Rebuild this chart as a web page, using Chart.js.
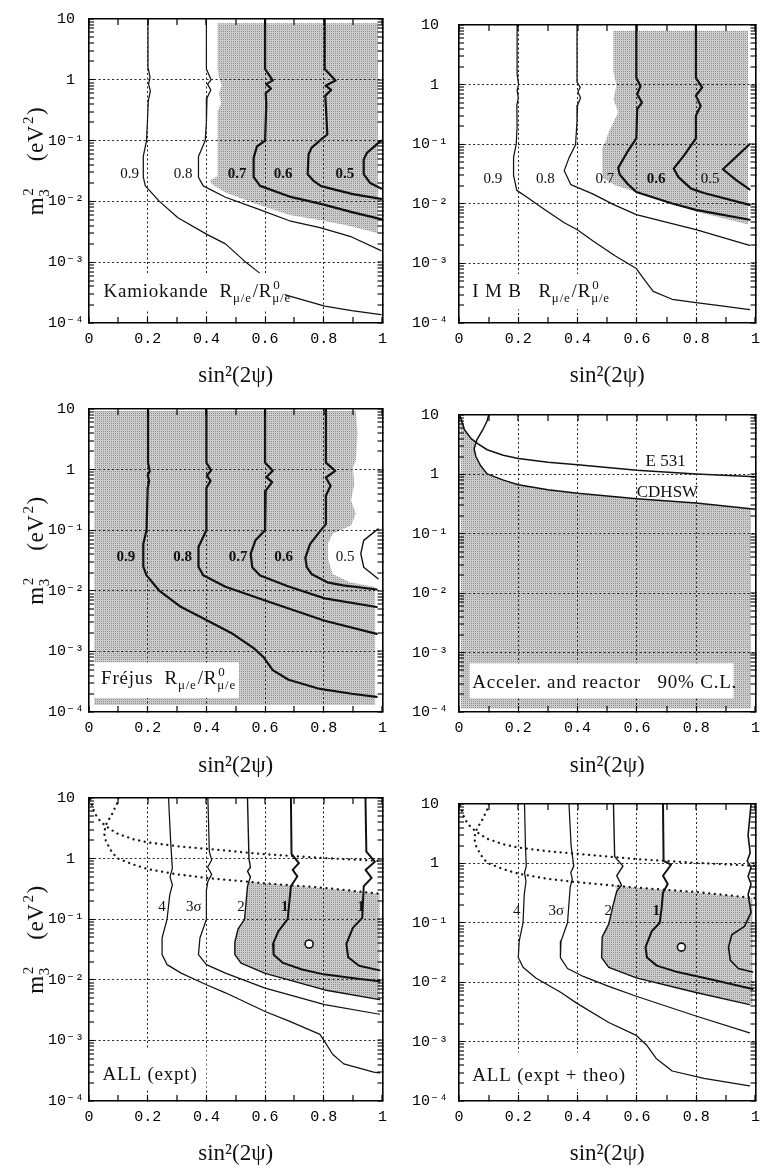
<!DOCTYPE html>
<html>
<head>
<meta charset="utf-8">
<title>m3^2 versus sin^2(2psi) contour panels</title>
<script src="https://cdn.jsdelivr.net/npm/chart.js@4.4.1/dist/chart.umd.min.js"></script>
<style>
  html, body { margin:0; padding:0; background:#fff; }
  #page { position:relative; width:773px; height:1168px; overflow:hidden; background:#fff; }
  canvas { position:absolute; }
</style>
</head>
<body>
<div id="page">
  <canvas id="p1" width="400" height="390" style="left:0px;top:0px;"></canvas>
  <canvas id="p2" width="373" height="390" style="left:400px;top:0px;"></canvas>
  <canvas id="p3" width="400" height="390" style="left:0px;top:390px;"></canvas>
  <canvas id="p4" width="373" height="390" style="left:400px;top:390px;"></canvas>
  <canvas id="p5" width="400" height="389" style="left:0px;top:779px;"></canvas>
  <canvas id="p6" width="373" height="389" style="left:400px;top:779px;"></canvas>
</div>
<script>
// ---------------- axis ticks ----------------
const xTickValues   = [0, 0.1, 0.2, 0.3, 0.4, 0.5, 0.6, 0.7, 0.8, 0.9, 1];
const xLabelValues  = [0, 0.2, 0.4, 0.6, 0.8, 1];
const xLabelTexts   = ['0', '0.2', '0.4', '0.6', '0.8', '1'];
const xGridValues   = [0.2, 0.4, 0.6, 0.8];
const yDecadeValues = [1e-4, 1e-3, 1e-2, 1e-1, 1, 10];
const yDecadeLabels = ['10\u207B\u2074', '10\u207B\u00B3', '10\u207B\u00B2', '10\u207B\u00B9', '1 ', '10 '];
const yGridValues   = [1e-3, 1e-2, 1e-1, 1];
const yMinorFactors = [2, 3, 4, 5, 6, 7, 8, 9];
const xTitleText    = 'sin\u00B2(2\u03C8)';
const yTitleParts   = ['m', {sup:'2', sub:'3'}, '    (eV', {sup:'2'}, ')'];

// ---------------- Panel 1: Kamiokande ----------------
const kam09 = [[0.201,10],[0.201,1.6],[0.208,1.1],[0.203,0.85],[0.209,0.65],[0.202,0.45],[0.199,0.2],[0.196,0.1],[0.185,0.055],[0.185,0.025],[0.192,0.018],[0.239,0.0101],[0.303,0.0054],[0.40,0.0029],[0.465,0.002],[0.529,0.00105],[0.572,0.00072],[0.669,0.00029],[0.803,0.00019],[0.895,0.00016],[0.995,0.000137]];
const kam08 = [[0.4,10],[0.4,1.5],[0.416,1.0],[0.404,0.85],[0.415,0.68],[0.402,0.5],[0.4,0.2],[0.396,0.1],[0.373,0.055],[0.373,0.025],[0.389,0.018],[0.465,0.0117],[0.572,0.0076],[0.683,0.0048],[0.787,0.0037],[0.895,0.0026],[0.995,0.00155]];
const kam07 = [[0.6,10],[0.6,1.5],[0.626,0.98],[0.604,0.85],[0.62,0.72],[0.602,0.6],[0.604,0.4],[0.6,0.1],[0.572,0.08],[0.561,0.052],[0.561,0.025],[0.583,0.018],[0.683,0.012],[0.79,0.0091],[0.899,0.0066],[0.995,0.0051]];
const kam06 = [[0.803,10],[0.803,1.5],[0.84,0.97],[0.806,0.8],[0.825,0.68],[0.805,0.55],[0.808,0.3],[0.812,0.126],[0.791,0.105],[0.758,0.076],[0.748,0.059],[0.745,0.028],[0.764,0.022],[0.791,0.0178],[0.834,0.0158],[0.899,0.0132],[0.995,0.011]];
const kam05 = [[0.995,0.1],[0.947,0.063],[0.936,0.049],[0.936,0.028],[0.958,0.020],[0.995,0.0163]];
const kamShade = [[0.438,8.5],[0.985,8.5],[0.985,0.003],[0.88,0.004],[0.78,0.005],[0.683,0.006],[0.572,0.009],[0.465,0.014],[0.42,0.019],[0.411,0.022],[0.438,0.026],[0.438,0.3],[0.45,0.4],[0.443,0.6],[0.452,0.8],[0.443,1.1],[0.438,1.5]];
const kamLabels = [['0.9',0.138,0.028,0],['0.8',0.321,0.028,0],['0.7',0.505,0.028,1],['0.6',0.661,0.028,1],['0.5',0.872,0.028,1]];

// ---------------- Panel 2: IMB ----------------
const imb09 = [[0.196,10],[0.196,1.5],[0.201,1.0],[0.196,0.8],[0.2,0.6],[0.195,0.45],[0.196,0.2],[0.193,0.1],[0.184,0.06],[0.184,0.03],[0.195,0.0168],[0.227,0.0131],[0.291,0.0079],[0.355,0.0048],[0.398,0.0037],[0.451,0.0024],[0.526,0.00134],[0.598,0.00082],[0.622,0.00056],[0.655,0.00034],[0.719,0.00025],[0.799,0.00022],[0.879,0.000195],[0.98,0.000167]];
const imb08 = [[0.398,10],[0.398,1.1],[0.409,0.9],[0.401,0.75],[0.41,0.6],[0.4,0.45],[0.398,0.24],[0.393,0.098],[0.371,0.059],[0.355,0.036],[0.377,0.021],[0.451,0.0147],[0.52,0.0098],[0.598,0.0066],[0.799,0.0037],[0.98,0.002]];
const imb07 = [[0.598,10],[0.598,1.3],[0.612,0.94],[0.601,0.69],[0.617,0.5],[0.601,0.39],[0.598,0.125],[0.569,0.076],[0.537,0.04],[0.542,0.031],[0.569,0.0215],[0.598,0.0158],[0.719,0.0101],[0.799,0.0079],[0.98,0.0054]];
const imb06 = [[0.799,10],[0.799,1.3],[0.82,0.9],[0.799,0.65],[0.815,0.44],[0.799,0.3],[0.799,0.125],[0.761,0.067],[0.724,0.039],[0.74,0.028],[0.783,0.018],[0.826,0.0152],[0.98,0.0096]];
const imb05 = [[0.98,0.1],[0.89,0.038],[0.935,0.025],[0.98,0.0175]];
const imbShade = [[0.521,8],[0.975,8],[0.975,0.0045],[0.799,0.0074],[0.719,0.0101],[0.598,0.0156],[0.526,0.0205],[0.483,0.0275],[0.483,0.087],[0.494,0.11],[0.505,0.16],[0.537,0.34],[0.521,0.57],[0.531,0.97],[0.521,1.6]];
const imbLabels = [['0.9',0.114,0.026,0],['0.8',0.291,0.026,0],['0.7',0.492,0.026,0],['0.6',0.665,0.026,1],['0.5',0.847,0.026,0]];

// ---------------- Panel 3: Frejus ----------------
const fre09 = [[0.201,10],[0.201,1.3],[0.207,0.95],[0.2,0.8],[0.205,0.65],[0.2,0.5],[0.196,0.1],[0.185,0.06],[0.185,0.025],[0.196,0.018],[0.239,0.0101],[0.314,0.0054],[0.4,0.0033],[0.486,0.002],[0.561,0.00113],[0.594,0.00081],[0.626,0.00049],[0.68,0.00034],[0.787,0.00024],[0.895,0.0002],[0.98,0.000178]];
const fre08 = [[0.4,10],[0.4,1.3],[0.416,0.97],[0.402,0.8],[0.414,0.65],[0.4,0.5],[0.4,0.1],[0.373,0.053],[0.373,0.025],[0.389,0.018],[0.465,0.0117],[0.6,0.0069],[0.803,0.0032],[0.98,0.00195]];
const fre07 = [[0.6,10],[0.6,1.3],[0.626,0.96],[0.604,0.75],[0.624,0.62],[0.602,0.45],[0.6,0.1],[0.567,0.068],[0.551,0.041],[0.556,0.0245],[0.583,0.0179],[0.68,0.0118],[0.803,0.0075],[0.98,0.0054]];
const fre06 = [[0.807,10],[0.807,1.3],[0.839,0.95],[0.807,0.74],[0.823,0.54],[0.807,0.37],[0.807,0.126],[0.78,0.087],[0.753,0.059],[0.737,0.035],[0.742,0.0245],[0.758,0.019],[0.812,0.0138],[0.866,0.0123],[0.98,0.0105]];
const fre05 = [[0.985,0.105],[0.936,0.068],[0.926,0.041],[0.936,0.0245],[0.985,0.0158]];
const freShade = [[0.018,9.3],[0.909,9.3],[0.915,3.9],[0.909,1.38],[0.899,1.07],[0.904,0.575],[0.893,0.31],[0.909,0.186],[0.893,0.12],[0.83,0.087],[0.814,0.059],[0.814,0.035],[0.83,0.019],[0.889,0.0138],[0.975,0.0115],[0.975,0.00013],[0.018,0.00013]];
const freLabels = [['0.9',0.126,0.036,1],['0.8',0.319,0.036,1],['0.7',0.508,0.036,1],['0.6',0.663,0.036,1],['0.5',0.873,0.036,0]];

// ---------------- Accelerator / reactor limits (panels 4-6) ----------------
const e531  = [[0.004,9.5],[0.019,5.6],[0.041,4.0],[0.063,3.3],[0.095,2.6],[0.149,2.1],[0.2,1.85],[0.3,1.6],[0.4,1.45],[0.6,1.18],[0.8,1.02],[1.0,0.91]];
const cdhsw = [[0.1,10],[0.095,8],[0.08,5.6],[0.06,3.8],[0.051,2.7],[0.057,2.0],[0.073,1.4],[0.095,1.02],[0.15,0.8],[0.2,0.67],[0.3,0.55],[0.4,0.48],[0.6,0.39],[0.8,0.33],[1.0,0.26]];
const accShade = [[0.006,0.000115],[0.006,9.0],[0.019,5.6],[0.041,4.0],[0.056,3.5],[0.051,2.7],[0.057,2.0],[0.073,1.4],[0.095,1.02],[0.15,0.8],[0.2,0.67],[0.3,0.55],[0.4,0.48],[0.6,0.39],[0.8,0.33],[0.985,0.265],[0.985,0.000115]];
const accLabels = [['E 531',0.697,1.64,0,17],['CDHSW',0.703,0.5,0,17]];

// ---------------- Panel 5: ALL (expt) ----------------
const all4 = [[0.271,10],[0.278,2],[0.284,0.69],[0.276,0.5],[0.284,0.37],[0.275,0.25],[0.266,0.1],[0.249,0.049],[0.249,0.026],[0.266,0.0178],[0.314,0.0129],[0.4,0.0083],[0.465,0.0061],[0.6,0.003],[0.68,0.0021],[0.787,0.00126],[0.809,0.00086],[0.83,0.00059],[0.868,0.00041],[0.97,0.0003],[0.99,0.00029]];
const all3 = [[0.405,10],[0.41,1.3],[0.418,0.95],[0.404,0.72],[0.418,0.55],[0.405,0.42],[0.4,0.3],[0.4,0.1],[0.378,0.049],[0.373,0.026],[0.4,0.0178],[0.465,0.0129],[0.6,0.0073],[0.803,0.0039],[0.99,0.0027]];
const all2 = [[0.54,10],[0.545,1.0],[0.55,0.72],[0.54,0.62],[0.55,0.5],[0.54,0.35],[0.53,0.1],[0.508,0.069],[0.497,0.042],[0.497,0.026],[0.518,0.0189],[0.6,0.0128],[0.803,0.0068],[0.99,0.0047]];
const all1a = [[0.688,10],[0.69,1.2],[0.715,0.84],[0.694,0.65],[0.71,0.51],[0.688,0.35],[0.683,0.2],[0.677,0.1],[0.645,0.063],[0.627,0.039],[0.629,0.026],[0.661,0.019],[0.726,0.0148],[0.8,0.0123],[0.909,0.0105],[0.99,0.0095]];
const all1b = [[0.942,10],[0.945,1.3],[0.974,0.89],[0.942,0.65],[0.963,0.48],[0.936,0.35],[0.931,0.105],[0.899,0.072],[0.877,0.039],[0.883,0.0235],[0.92,0.017],[0.99,0.0143]];
const allBest = [[0.75,0.039]];
const allShade = [[0.545,0.415],[0.6,0.39],[0.8,0.325],[0.99,0.262],[0.99,0.0047],[0.803,0.0068],[0.6,0.0128],[0.518,0.0189],[0.497,0.026],[0.497,0.042],[0.508,0.069],[0.53,0.1],[0.54,0.35]];
const allLabels = [['4',0.249,0.16,0],['3\u03C3',0.357,0.16,0],['2',0.518,0.16,0],['1',0.667,0.16,1],['1',0.927,0.16,1]];

// ---------------- Panel 6: ALL (expt + theo) ----------------
const th4 = [[0.221,10],[0.224,2],[0.227,0.9],[0.221,0.7],[0.226,0.5],[0.22,0.3],[0.216,0.1],[0.203,0.049],[0.2,0.026],[0.216,0.0178],[0.259,0.0118],[0.344,0.0067],[0.398,0.0044],[0.505,0.0021],[0.598,0.00127],[0.633,0.00087],[0.665,0.00052],[0.719,0.00032],[0.826,0.00024],[0.98,0.00018]];
const th3 = [[0.371,10],[0.378,2],[0.387,0.9],[0.377,0.7],[0.382,0.55],[0.375,0.4],[0.366,0.1],[0.344,0.049],[0.342,0.026],[0.366,0.017],[0.419,0.0125],[0.505,0.0085],[0.598,0.0058],[0.799,0.0027],[0.98,0.0014]];
const th2 = [[0.521,10],[0.525,1.3],[0.553,0.9],[0.532,0.62],[0.548,0.43],[0.532,0.34],[0.52,0.2],[0.505,0.095],[0.483,0.058],[0.481,0.026],[0.505,0.0178],[0.598,0.0118],[0.799,0.0067],[0.98,0.0042]];
const th1a = [[0.688,10],[0.69,1.1],[0.715,0.95],[0.688,0.62],[0.704,0.45],[0.688,0.32],[0.683,0.17],[0.677,0.1],[0.65,0.072],[0.629,0.039],[0.634,0.026],[0.667,0.019],[0.737,0.0148],[0.855,0.011],[0.99,0.0077]];
const th1b = [[0.985,10],[0.975,3],[0.982,1.5],[0.972,1.1],[0.985,0.85],[0.975,0.6],[0.985,0.45],[0.975,0.3],[0.985,0.15],[0.963,0.087],[0.92,0.063],[0.909,0.039],[0.915,0.0234],[0.942,0.017],[0.99,0.0148]];
const thBest = [[0.75,0.039]];
const thShade = [[0.526,0.425],[0.6,0.39],[0.8,0.325],[0.99,0.262],[0.99,0.0042],[0.799,0.0067],[0.598,0.0118],[0.505,0.0178],[0.481,0.026],[0.483,0.058],[0.505,0.095],[0.52,0.2],[0.532,0.34]];
const thLabels = [['4',0.195,0.16,0],['3\u03C3',0.328,0.16,0],['2',0.503,0.16,0],['1',0.665,0.16,1]];

// ---------------- panel captions ----------------
const ratioParts = ['R', {sub:'\u03BC/e'}, '/R', {sup:'0', sub:'\u03BC/e'}];
const captionKam = ['Kamiokande  '].concat(ratioParts);
const captionImb = ['I M B   '].concat(ratioParts);
const captionFre = ['Fr\u00E9jus  '].concat(ratioParts);
const captionAcc = ['Acceler. and reactor   90% C.L.'];
const captionAll = ['ALL (expt)'];
const captionTh  = ['ALL (expt + theo)'];

// ---------------- styling helpers ----------------
const SERIF = '"Liberation Serif", "Times New Roman", Times, serif';
const MONO  = '"Liberation Mono", "Courier New", monospace';
const INK = '#111';

function makeShadePattern() {
  const c = document.createElement('canvas');
  c.width = 2; c.height = 2;
  const g = c.getContext('2d');
  g.fillStyle = '#c6c6c6'; g.fillRect(0, 0, 2, 2);
  g.fillStyle = '#d2d2d2'; g.fillRect(1, 0, 1, 1); g.fillRect(0, 1, 1, 1);
  g.fillStyle = '#8c8c8c'; g.fillRect(1, 1, 1, 1);
  return g.createPattern(c, 'repeat');
}
const SHADE = makeShadePattern();

const xy = arr => arr.map(p => ({x: p[0], y: p[1]}));
function contour(pts, w, extra) {
  return Object.assign({type:'line', data: xy(pts), borderColor: INK, borderWidth: w, pointRadius: 0,
    pointHoverRadius: 0, fill: false, tension: 0, order: 1, borderJoinStyle: 'round', borderCapStyle: 'round'}, extra || {});
}
function dotted(pts) { return contour(pts, 2.3, {borderDash: [0.1, 5.6], borderColor: '#1a1a1a'}); }
function region(pts) {
  return {type:'line', data: xy(pts), borderColor: 'rgba(0,0,0,0)', borderWidth: 0, backgroundColor: SHADE,
    fill: 'shape', pointRadius: 0, pointHoverRadius: 0, tension: 0, order: 10};
}
function marker(pts) {
  return {type:'line', data: xy(pts), showLine: false, pointRadius: 4, pointBorderWidth: 1.6,
    pointBorderColor: INK, pointBackgroundColor: '#fff', order: 0};
}

const near = (v, list) => list.some(m => Math.abs(v - m) <= Math.abs(m) * 1e-6 + 1e-12);
const allYTicks = (() => {
  const t = [];
  yDecadeValues.forEach((d, i) => {
    t.push(d);
    if (i < yDecadeValues.length - 1) yMinorFactors.forEach(f => t.push(d * f));
  });
  return t;
})();

function buildScales(L) {
  const setX = s => { s.ticks = xTickValues.map(v => ({value: v})); };
  const setY = s => { s.ticks = allYTicks.map(v => ({value: v})); };
  const frame = {z: 1, display: true, color: '#000', width: 1.6, dash: [2, 2.5]};
  return {
    x: {
      type: 'linear', position: 'bottom', min: 0, max: 1, afterBuildTicks: setX,
      afterFit: s => { s.height = L.axisH; },
      ticks: {autoSkip: false, maxRotation: 0, minRotation: 0, padding: L.xPad, color: '#000',
        font: {family: MONO, size: 15},
        callback: v => { const i = xLabelValues.findIndex(m => Math.abs(m - v) < 1e-9); return i >= 0 ? xLabelTexts[i] : ''; }},
      grid: {z: 1, color: '#222', lineWidth: c => (c.tick && near(c.tick.value, xGridValues)) ? 1 : 0,
        drawTicks: true, tickLength: -6, tickWidth: 1.2, tickColor: '#000'},
      border: frame,
      title: {display: true, text: xTitleText, color: INK, font: {family: SERIF, size: 23}, padding: {top: 0, bottom: 0}}
    },
    x2: {
      type: 'linear', position: 'top', min: 0, max: 1, afterBuildTicks: setX,
      afterFit: s => { s.height = 0; },
      ticks: {display: false},
      grid: {z: 1, drawOnChartArea: false, drawTicks: true, tickLength: -6, tickWidth: 1.2, tickColor: '#000', lineWidth: 0},
      border: frame
    },
    y: {
      type: 'logarithmic', position: 'left', min: 1e-4, max: 10, afterBuildTicks: setY,
      afterFit: s => { s.width = L.axisW; },
      ticks: {autoSkip: false, padding: L.yPad, color: '#000', font: {family: MONO, size: 15},
        callback: v => { const i = yDecadeValues.findIndex(d => Math.abs(v / d - 1) < 1e-6); return i >= 0 ? yDecadeLabels[i] : ''; }},
      grid: {z: 1, color: '#222', lineWidth: c => (c.tick && near(c.tick.value, yGridValues)) ? 1 : 0,
        drawTicks: true, tickLength: -5, tickWidth: 1.1, tickColor: '#000'},
      border: frame
    },
    y2: {
      type: 'logarithmic', position: 'right', min: 1e-4, max: 10, afterBuildTicks: setY,
      afterFit: s => { s.width = 0; },
      ticks: {display: false},
      grid: {z: 1, drawOnChartArea: false, drawTicks: true, tickLength: -5, tickWidth: 1.1, tickColor: '#000', lineWidth: 0},
      border: frame
    }
  };
}

// rich text (sub/superscripts) drawn on the canvas
function drawRich(ctx, parts, x0, y0, size, spacing, dry) {
  let cx = x0;
  const hasLS = 'letterSpacing' in ctx;
  if (hasLS) ctx.letterSpacing = spacing + 'px';
  for (const p of parts) {
    if (typeof p === 'string') {
      ctx.font = size + 'px ' + SERIF;
      if (!dry) ctx.fillText(p, cx, y0);
      cx += ctx.measureText(p).width;
    } else {
      const s = Math.round(size * 0.66);
      ctx.font = s + 'px ' + SERIF;
      let w = 0;
      if (p.sup) { if (!dry) ctx.fillText(p.sup, cx + 1, y0 - size * 0.42); w = Math.max(w, ctx.measureText(p.sup).width + 1); }
      if (p.sub) { if (!dry) ctx.fillText(p.sub, cx, y0 + size * 0.26); w = Math.max(w, ctx.measureText(p.sub).width); }
      cx += w + 1;
    }
  }
  if (hasLS) ctx.letterSpacing = '0px';
  return cx - x0;
}

function panelDecor(spec) {
  return {
    id: 'panelDecor',
    afterDatasetsDraw(chart) {
      const {ctx} = chart, xs = chart.scales.x, ys = chart.scales.y;
      ctx.save();
      ctx.fillStyle = INK; ctx.textAlign = 'center'; ctx.textBaseline = 'middle';
      for (const lab of spec.labels) {
        ctx.font = (lab[3] ? 'bold ' : '') + (lab[4] || 15) + 'px ' + SERIF;
        ctx.fillText(lab[0], xs.getPixelForValue(lab[1]), ys.getPixelForValue(lab[2]));
      }
      ctx.restore();
    },
    afterDraw(chart) {
      const {ctx, chartArea} = chart, xs = chart.scales.x, ys = chart.scales.y;
      ctx.save();
      const b = spec.box;
      const bx0 = xs.getPixelForValue(b[0]), by0 = ys.getPixelForValue(b[1]);
      const bx1 = xs.getPixelForValue(b[2]), by1 = ys.getPixelForValue(b[3]);
      ctx.fillStyle = '#fff';
      ctx.fillRect(bx0, by0, bx1 - bx0, by1 - by0);
      ctx.fillStyle = INK; ctx.textAlign = 'left'; ctx.textBaseline = 'alphabetic';
      drawRich(ctx, spec.caption, xs.getPixelForValue(spec.capAt[0]), ys.getPixelForValue(spec.capAt[1]), 19, 0.8, false);
      if (spec.yTitle) {
        ctx.translate(chartArea.left - 46, (chartArea.top + chartArea.bottom) / 2 - 10);
        ctx.rotate(-Math.PI / 2);
        const w = drawRich(ctx, yTitleParts, 0, 0, 23, 0.6, true);
        drawRich(ctx, yTitleParts, -w / 2, 0, 23, 0.6, false);
      }
      ctx.restore();
    }
  };
}

function makePanel(id, L, datasets, spec) {
  return new Chart(document.getElementById(id), {
    type: 'line',
    data: {datasets},
    options: {
      responsive: false, animation: false, devicePixelRatio: 1, events: [],
      layout: {padding: {top: L.padTop, right: L.padRight, left: 0, bottom: 0}},
      plugins: {legend: {display: false}, tooltip: {enabled: false}},
      scales: buildScales(L)
    },
    plugins: [panelDecor(spec)]
  });
}

const LEFT  = {padRight: 2, axisW: 89, yPad: 10, xPad: 13};
const RIGHT = {padRight: 5, axisW: 59, yPad: 16, xPad: 13};
const ROW1 = {padTop: 17, axisH: 67};
const ROW2 = {padTop: 18, axisH: 68};
const ROW3 = {padTop: 17, axisH: 67};
const lay = (c, r) => Object.assign({}, c, r);

const THIN = 1.25, THICK = 2.2;

makePanel('p1', lay(LEFT, ROW1), [
  contour(kam09, THIN), contour(kam08, THIN), contour(kam07, THICK), contour(kam06, THICK), contour(kam05, THICK),
  region(kamShade)
], {labels: kamLabels, caption: captionKam, capAt: [0.049, 2.7e-4], box: [0.036, 6.6e-4, 0.667, 1.7e-4], yTitle: true});

makePanel('p2', lay(RIGHT, ROW1), [
  contour(imb09, THIN), contour(imb08, THIN), contour(imb07, THICK), contour(imb06, THICK), contour(imb05, THICK),
  region(imbShade)
], {labels: imbLabels, caption: captionImb, capAt: [0.045, 2.7e-4], box: [0.023, 6.6e-4, 0.515, 1.7e-4], yTitle: false});

makePanel('p3', lay(LEFT, ROW2), [
  contour(fre09, THICK), contour(fre08, THICK), contour(fre07, THICK), contour(fre06, THICK), contour(fre05, 1.4),
  region(freShade)
], {labels: freLabels, caption: captionFre, capAt: [0.041, 2.9e-4], box: [0.019, 6.6e-4, 0.511, 1.7e-4], yTitle: true});

makePanel('p4', lay(RIGHT, ROW2), [
  contour(e531, 1.5), contour(cdhsw, 1.5),
  region(accShade)
], {labels: accLabels, caption: captionAcc, capAt: [0.045, 2.5e-4], box: [0.036, 6.6e-4, 0.926, 1.7e-4], yTitle: false});

makePanel('p5', lay(LEFT, ROW3), [
  marker(allBest),
  contour(all4, THIN), contour(all3, THIN), contour(all2, 1.4), contour(all1a, 2.0), contour(all1b, 2.0),
  dotted(e531), dotted(cdhsw),
  region(allShade)
], {labels: allLabels, caption: captionAll, capAt: [0.046, 2.2e-4], box: [0.03, 7.0e-4, 0.40, 1.6e-4], yTitle: true});

makePanel('p6', lay(RIGHT, ROW3), [
  marker(thBest),
  contour(th4, THIN), contour(th3, THIN), contour(th2, 1.4), contour(th1a, 2.0), contour(th1b, 1.6),
  dotted(e531), dotted(cdhsw),
  region(thShade)
], {labels: thLabels, caption: captionTh, capAt: [0.045, 2.2e-4], box: [0.036, 6.6e-4, 0.56, 1.6e-4], yTitle: false});
</script>
</body>
</html>
